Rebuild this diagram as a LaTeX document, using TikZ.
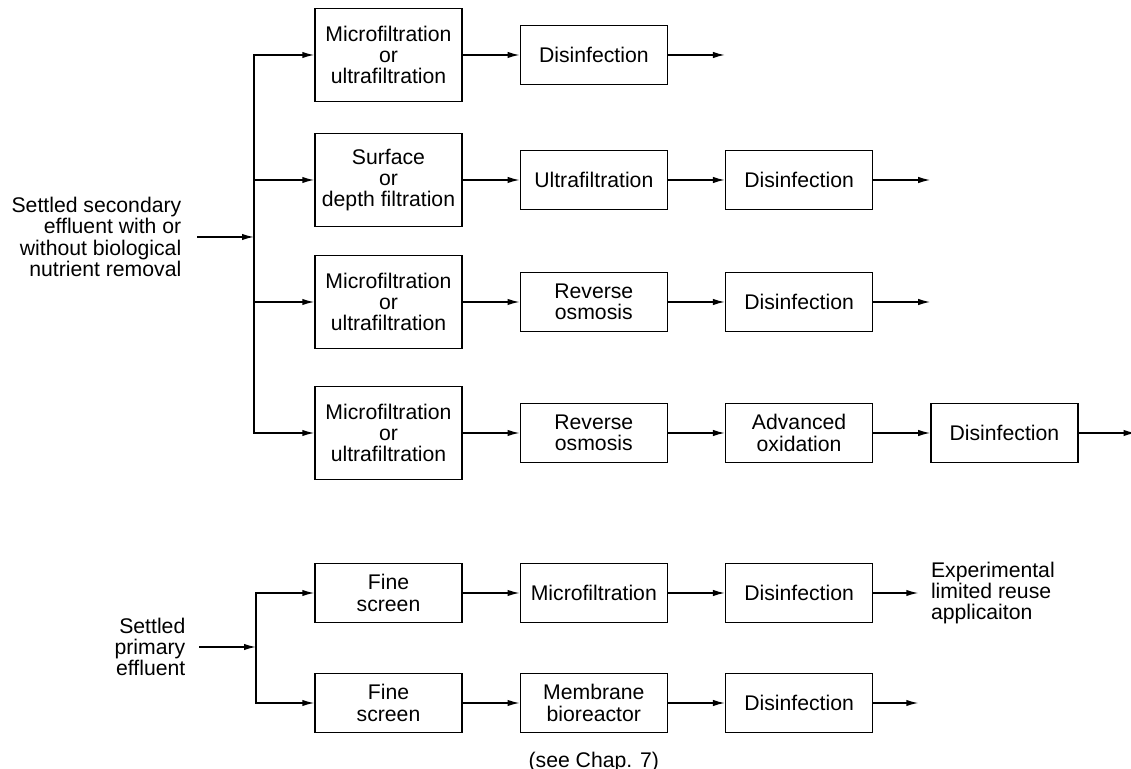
\documentclass[tikz,border=0pt]{standalone}
\usepackage{fontspec}
\setmainfont{Liberation Sans}
\usetikzlibrary{arrows.meta,positioning}

\begin{document}
\begin{tikzpicture}[x=0.5pt,y=-0.5pt,node distance=1cm,>={Latex[length=6pt,width=3.2pt]}, line width=0.7pt, every node/.style={font=\fontsize{10.6}{10.6}\selectfont}]
\tikzstyle{box}=[draw, align=center, minimum width=73.5pt, minimum height=29.5pt, inner sep=1pt]
\tikzstyle{tall}=[box, minimum height=46.5pt]
\tikzstyle{lbl}=[inner ysep=0pt]
\useasboundingbox (0,0) rectangle (1131,769);
% secondary effluent
\node[lbl,align=right,anchor=east,inner xsep=7.5pt] (src) at (197,237) {Settled secondary\\effluent with or\\without biological\\nutrient removal};
\coordinate (j1) at (254,237);
\node[tall] (mf1) at (388.5,55) {Microfiltration\\or\\ultrafiltration};
\node[box,right=of mf1] (dis1) {Disinfection};
\coordinate[right=of dis1] (out1);
\node[tall] (sf2) at (388.5,180) {Surface\\or\\depth filtration};
\node[box,right=of sf2] (uf2) {Ultrafiltration};
\node[box,right=of uf2] (dis2) {Disinfection};
\coordinate[right=of dis2] (out2);
\node[tall] (mf3) at (388.5,302) {Microfiltration\\or\\ultrafiltration};
\node[box,right=of mf3] (ro3) {Reverse\\osmosis};
\node[box,right=of ro3] (dis3) {Disinfection};
\coordinate[right=of dis3] (out3);
\node[tall] (mf4) at (388.5,433) {Microfiltration\\or\\ultrafiltration};
\node[box,right=of mf4] (ro4) {Reverse\\osmosis};
\node[box,right=of ro4] (ao4) {Advanced\\oxidation};
\node[box,right=of ao4] (dis4) {Disinfection};
\coordinate[right=of dis4] (out4);
\draw[->] (src) -- (j1);
\foreach \b in {mf1,sf2,mf3,mf4} \draw[->] (j1) |- (\b);
\draw[->] (mf1)--(dis1); \draw[->] (dis1)--(out1);
\draw[->] (sf2)--(uf2); \draw[->] (uf2)--(dis2); \draw[->] (dis2)--(out2);
\draw[->] (mf3)--(ro3); \draw[->] (ro3)--(dis3); \draw[->] (dis3)--(out3);
\draw[->] (mf4)--(ro4); \draw[->] (ro4)--(ao4); \draw[->] (ao4)--(dis4); \draw[->] (dis4)--(out4);
% primary effluent
\node[lbl,align=right,anchor=east,inner xsep=6.5pt] (src2) at (199,647) {Settled\\primary\\effluent};
\coordinate (j2) at (256,647);
\node[box] (fs5) at (388.5,593) {Fine\\screen};
\node[box,right=of fs5] (mf5) {Microfiltration};
\node[box,right=of mf5] (dis5) {Disinfection};
\node[lbl,align=left,right=22.5pt of dis5,inner xsep=6pt] (app) {Experimental\\limited reuse\\applicaiton};
\node[box] (fs6) at (388.5,703) {Fine\\screen};
\node[box,right=of fs6] (mbr6) {Membrane\\bioreactor};
\node[box,right=of mbr6] (dis6) {Disinfection};
\coordinate[right=22.5pt of dis6] (out6);
\node[inner sep=0pt,below=9pt of mbr6] (chap) {(see Chap. 7)};
\draw[->] (src2) -- (j2);
\foreach \b in {fs5,fs6} \draw[->] (j2) |- (\b);
\draw[->] (fs5)--(mf5); \draw[->] (mf5)--(dis5); \draw[->] (dis5)--(app);
\draw[->] (fs6)--(mbr6); \draw[->] (mbr6)--(dis6); \draw[->] (dis6)--(out6);
\end{tikzpicture}
\end{document}
